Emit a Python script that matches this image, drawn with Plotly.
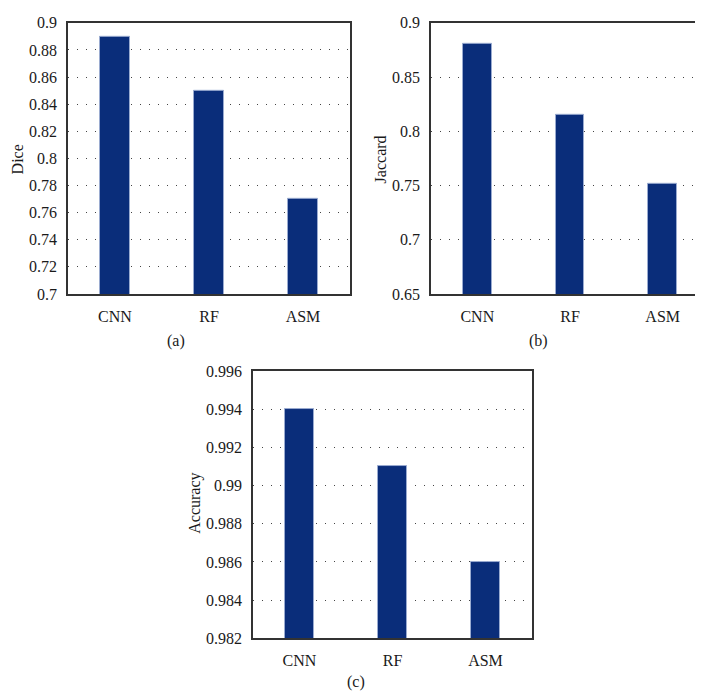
import plotly.graph_objects as go

W, H = 703, 692

methods = ["CNN", "RF", "ASM"]
dice = [0.89, 0.85, 0.77]
jaccard = [0.881, 0.815, 0.752]
accuracy = [0.994, 0.991, 0.986]

bar_color = "#0a2d7a"
edge_color = "#9aabd0"
font_family = "Liberation Serif"

fig = go.Figure()

def px_x(p):
    return p / W

def px_y(p):
    return 1 - p / H

panels = [
    dict(vals=dice, xa="x", ya="y", xdom=[60, 342], ydom=[7, 285], rng=[0.7, 0.9], dtick=0.02,
         title="Dice", tpos=(9, 147), lab="(a)", lpos=(168, 333)),
    dict(vals=jaccard, xa="x2", ya="y2", xdom=[423, 701], ydom=[7, 285], rng=[0.65, 0.9], dtick=0.05,
         title="Jaccard", tpos=(372, 147), lab="(b)", lpos=(530, 333)),
    dict(vals=accuracy, xa="x3", ya="y3", xdom=[245, 524], ydom=[364, 638], rng=[0.982, 0.996], dtick=0.002,
         title="Accuracy", tpos=(187, 500), lab="(c)", lpos=(348, 683)),
]

layout = {}
for i, p in enumerate(panels):
    fig.add_trace(go.Bar(
        x=methods, y=p["vals"], xaxis=p["xa"], yaxis=p["ya"],
        width=0.31, marker=dict(color=bar_color, line=dict(color=edge_color, width=1)),
        showlegend=False,
    ))
    sfx = "" if i == 0 else str(i + 1)
    layout["xaxis" + sfx] = dict(
        domain=[px_x(p["xdom"][0]), px_x(p["xdom"][1])],
        anchor=p["ya"], range=[-0.5, 2.5], type="category",
        showline=True, mirror=True, linecolor="#333333", linewidth=1.5,
        showgrid=False, ticks="outside", ticklen=7, tickcolor="rgba(0,0,0,0)",
        tickfont=dict(family=font_family, size=16, color="#1a1a1a"),
    )
    layout["yaxis" + sfx] = dict(
        domain=[px_y(p["ydom"][1]), px_y(p["ydom"][0])],
        anchor=p["xa"], range=p["rng"], dtick=p["dtick"], tick0=p["rng"][0],
        showline=True, mirror=True, linecolor="#333333", linewidth=1.5,
        showgrid=True, gridcolor="#444444", gridwidth=1, griddash="1px,8px",
        zeroline=False, ticks="outside", ticklen=6, tickcolor="rgba(0,0,0,0)",
        tickfont=dict(family=font_family, size=16, color="#1a1a1a"),
    )

annotations = []
for p in panels:
    annotations.append(dict(
        text=p["title"], x=px_x(p["tpos"][0]), y=px_y(p["tpos"][1]),
        xref="paper", yref="paper", xanchor="center", yanchor="middle",
        textangle=-90, showarrow=False,
        font=dict(family=font_family, size=16, color="#1a1a1a"),
    ))
    annotations.append(dict(
        text=p["lab"], x=px_x(p["lpos"][0]), y=px_y(p["lpos"][1]),
        xref="paper", yref="paper", xanchor="center", yanchor="middle",
        showarrow=False,
        font=dict(family=font_family, size=16, color="#1a1a1a"),
    ))

fig.update_layout(
    width=W, height=H,
    margin=dict(l=0, r=0, t=0, b=0),
    paper_bgcolor="white", plot_bgcolor="white",
    annotations=annotations,
    bargap=0,
    **layout,
)

fig.write_html("out.html")
